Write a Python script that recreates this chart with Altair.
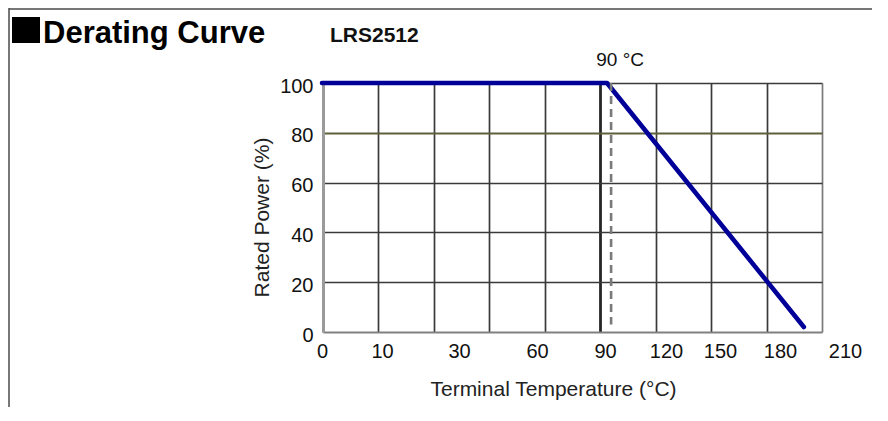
import altair as alt
import pandas as pd

# ---- values ----
x_tick_values = [0, 10, 30, 60, 90, 120, 150, 180, 210]
y_tick_values = [0, 20, 40, 60, 80, 100]
grid_index = list(range(10))          # uniform vertical grid lines

curve_temp = [0, 91, 191]
curve_power = [100, 100, 2]

dash_temp = [93]
dash_top = [100]
dash_bottom = [3]

# ---- layout ----
W, H = 499, 249
# where each tick label sits along the plot width (the original labels are not on the grid)
x_label_pos = [-1, 59, 136, 214, 282, 343, 397, 457, 522]

FONT = "Liberation Sans, Arial, sans-serif"

x_scale = alt.Scale(domain=x_tick_values, range=x_label_pos, nice=False, zero=False)
y_scale = alt.Scale(domain=[0, 100], nice=False, zero=True)

y_axis = alt.Axis(values=y_tick_values, grid=True, ticks=False, domain=True,
                  domainColor="#9a9a9a", domainWidth=3, zindex=0,
                  gridColor={"condition": [
                      {"test": "datum.value === 80", "value": "#5f5f3a"},
                      {"test": "datum.value === 0", "value": "#808080"}],
                      "value": "#3a3a3a"},
                  gridWidth={"condition": [
                      {"test": "datum.value === 0", "value": 2.2},
                      {"test": "datum.value === 80", "value": 2}],
                      "value": 1.7},
                  gridOpacity=1,
                  labelFont=FONT, labelFontSize=20, labelColor="#111111",
                  labelPadding=10, labelOffset=3, labelFlush=False,
                  labelOverlap=False, labelBound=False,
                  title="Rated Power (%)", titleFont=FONT, titleFontSize=21,
                  titleFontWeight="normal", titleColor="#222222",
                  titleX=-61, titleY=134, titleBaseline="middle",
                  titleAlign="center", titleAngle=270)

grid_df = pd.DataFrame({"g": grid_index, "p": [0] * len(grid_index)})
curve_df = pd.DataFrame({"t": curve_temp, "p": curve_power})
dash_df = pd.DataFrame({"t": dash_temp, "top": dash_top, "bot": dash_bottom})
one = pd.DataFrame({"k": [0]})

grid_layer = alt.Chart(grid_df).mark_point(opacity=0).encode(
    x=alt.X("g:Q", scale=alt.Scale(domain=[0, 9], nice=False, zero=False),
            axis=alt.Axis(orient="top", values=grid_index, grid=True, labels=False,
                          ticks=False, domain=False, title=None, zindex=0,
                          gridColor={"condition": [
                              {"test": "datum.value === 9", "value": "#7a7a7a"},
                              {"test": "datum.value === 0", "value": "#9a9a9a"},
                              {"test": "datum.value === 5", "value": "#262626"}],
                              "value": "#3a3a3a"},
                          gridWidth={"condition": [
                              {"test": "datum.value === 5", "value": 2.8},
                              {"test": "datum.value === 0", "value": 3}],
                              "value": 1.7},
                          gridOpacity=1)),
    y=alt.Y("p:Q", scale=y_scale, axis=y_axis),
)

curve = alt.Chart(curve_df).mark_line(color="#000099", strokeWidth=4.6,
                                      strokeCap="round", strokeJoin="round").encode(
    x=alt.X("t:Q", scale=x_scale,
            axis=alt.Axis(orient="bottom", values=x_tick_values, grid=False, ticks=False,
                          domain=False, labelFlush=False, labelOverlap=False,
                          labelBound=False, labelPadding=9, labelFont=FONT,
                          labelFontSize=20, labelColor="#111111", labelBaseline="top",
                          title="Terminal Temperature (°C)", titleFont=FONT,
                          titleFontSize=21, titleFontWeight="normal",
                          titleColor="#222222", titleX=230, titleY=63,
                          titleBaseline="alphabetic", titleAlign="center", zindex=0)),
    y=alt.Y("p:Q", scale=y_scale, axis=y_axis),
)

dash = alt.Chart(dash_df).mark_rule(color="#7a7a7a", strokeWidth=2.6,
                                    strokeDash=[8, 5]).encode(
    x=alt.X("t:Q", scale=x_scale, axis=None),
    y=alt.Y("top:Q", scale=y_scale, axis=y_axis),
    y2="bot:Q",
)

label90 = alt.Chart(dash_df).mark_text(text="90  °C", font=FONT, fontSize=19,
                                       color="#111111", align="center",
                                       baseline="middle", dx=9).encode(
    x=alt.X("t:Q", scale=x_scale, axis=None),
    y=alt.value(-23),
)

model = alt.Chart(one).mark_text(text="LRS2512", font=FONT, fontSize=21,
                                 fontWeight="bold", color="#111111", align="left",
                                 baseline="middle").encode(
    x=alt.value(7), y=alt.value(-47))

heading = alt.Chart(one).mark_text(text="Derating Curve", font=FONT, fontSize=31,
                                   fontWeight="bold", color="#000000", align="left",
                                   baseline="alphabetic").encode(
    x=alt.value(-280), y=alt.value(-40))

square = alt.Chart(one).mark_rect(color="#000000").encode(
    x=alt.value(-311), x2=alt.value(-283), y=alt.value(-66), y2=alt.value(-40))

# page frame (left and top border of the document box)
frame_left = alt.Chart(one).mark_rule(color="#4a4a4a", strokeWidth=1.5).encode(
    x=alt.value(-314), y=alt.value(-75), y2=alt.value(324))
frame_top = alt.Chart(one).mark_rule(color="#4a4a4a", strokeWidth=1.5).encode(
    x=alt.value(-314), x2=alt.value(549), y=alt.value(-74))

chart = alt.layer(grid_layer, curve, dash, label90, model, heading, square,
                  frame_left, frame_top).resolve_scale(
    x="independent"
).properties(
    width=W, height=H,
    padding={"left": 315, "top": 75, "right": 50, "bottom": 75},
    autosize=alt.AutoSizeParams(type="none"),
    background="white",
).configure_view(stroke=None)

chart.save("out.html", embed_options={"renderer": "svg", "actions": False})
